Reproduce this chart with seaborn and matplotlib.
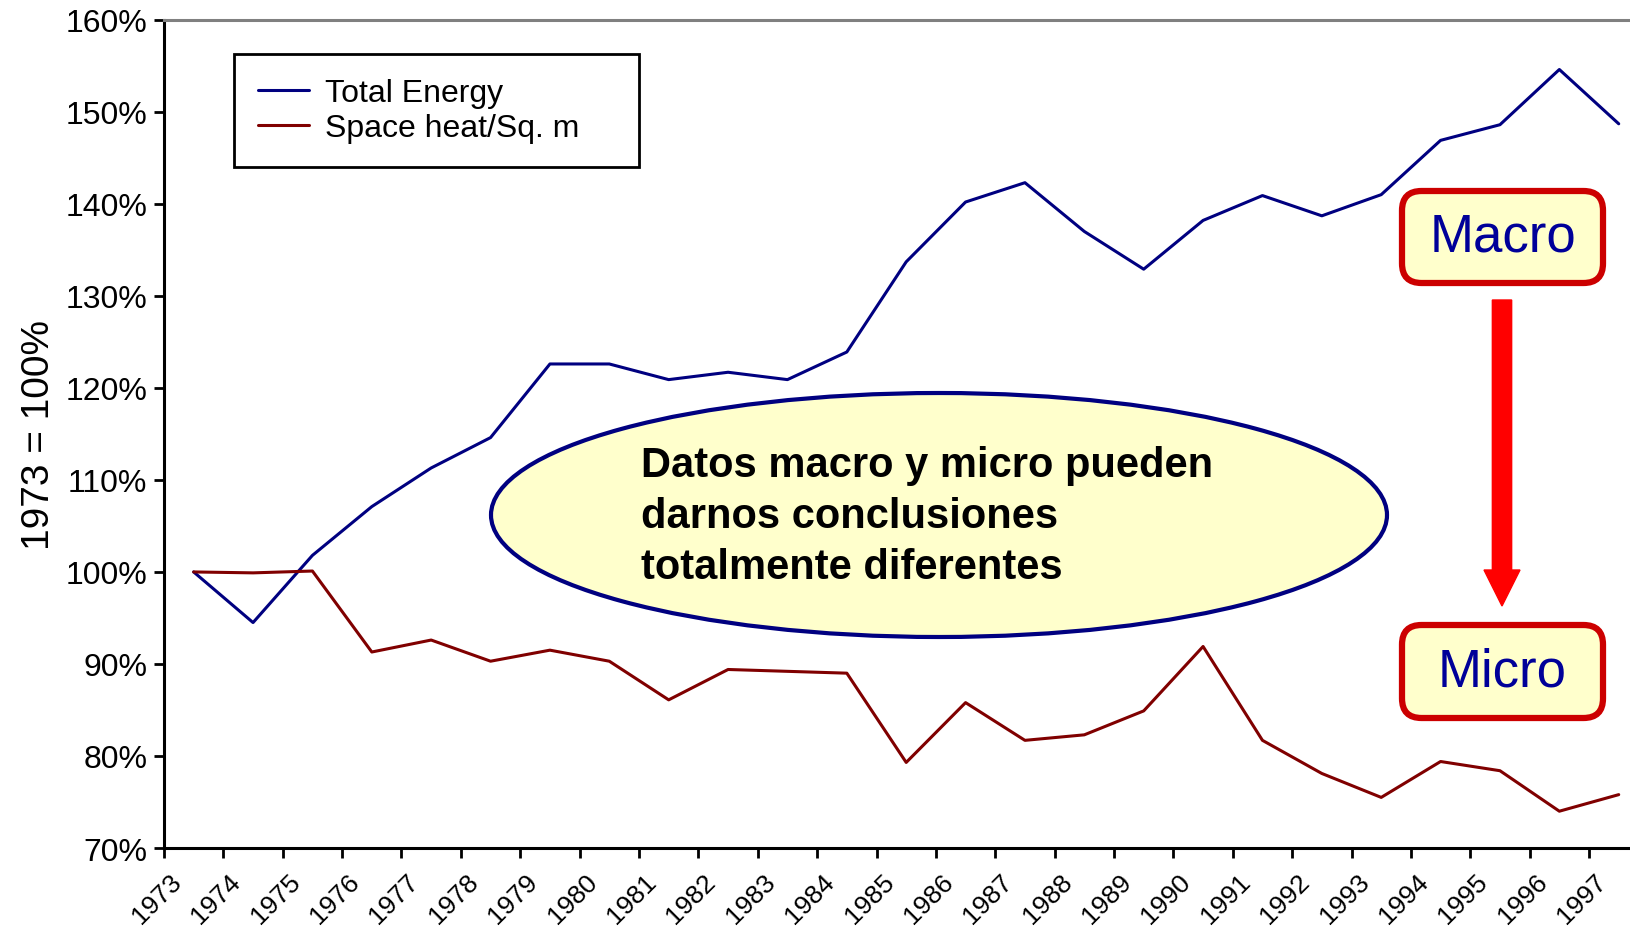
import matplotlib
matplotlib.use("Agg")
import matplotlib.pyplot as plt
import seaborn as sns
import pandas as pd
import numpy as np
from matplotlib.patches import Ellipse, FancyBboxPatch, FancyArrow
from matplotlib import font_manager

years = [str(y) for y in range(1973, 1998)]
total_energy = [100.0, 94.5, 101.8, 107.1, 111.3, 114.6, 122.6, 122.6, 120.9, 121.7,
                120.9, 123.9, 133.7, 140.2, 142.3, 137.0, 132.9, 138.2, 140.9, 138.7,
                141.0, 146.9, 148.6, 154.6, 148.7]
space_heat = [100.0, 99.9, 100.1, 91.3, 92.6, 90.3, 91.5, 90.3, 86.1, 89.4,
              89.2, 89.0, 79.3, 85.8, 81.7, 82.3, 84.9, 91.9, 81.7, 78.1,
              75.5, 79.4, 78.4, 74.0, 75.8]
series_names = ["Total Energy", "Space heat/Sq. m"]
y_ticks = [70, 80, 90, 100, 110, 120, 130, 140, 150, 160]
callout = "Datos macro y micro pueden\ndarnos conclusiones\ntotalmente diferentes"

sns.set_style("white")
plt.rcParams['font.family'] = ['Liberation Sans', 'DejaVu Sans']
plt.rcParams['text.color'] = 'black'
plt.rcParams['axes.labelcolor'] = 'black'
plt.rcParams['xtick.color'] = 'black'
plt.rcParams['ytick.color'] = 'black'

names = {f.name for f in font_manager.fontManager.ttflist}
narrow = 'Liberation Sans Narrow' if 'Liberation Sans Narrow' in names else 'Liberation Sans'

df = pd.DataFrame({
    "idx": list(range(len(years))) * 2,
    "value": total_energy + space_heat,
    "series": [series_names[0]] * len(years) + [series_names[1]] * len(years),
})

fig = plt.figure(figsize=(16.3, 9.29), dpi=100)
ax = fig.add_axes([0.1006, 0.0861, 0.8994, 0.8915])
sns.lineplot(data=df, x="idx", y="value", hue="series",
             palette={series_names[0]: "#000080", series_names[1]: "#800000"},
             linewidth=2.2, ax=ax, legend=True)

ax.set_xlim(-0.5, 24.19)
ax.set_ylim(70, 160)
ax.set_yticks(y_ticks)
ax.set_yticklabels([f"{v}%" for v in y_ticks], fontsize=23, family=narrow)
ax.set_xticks(np.arange(-0.5, 24.5, 1.0))
ax.set_xticklabels([])
for i, yl in enumerate(years):
    ax.text(i - 0.27, -0.036, yl, transform=ax.get_xaxis_transform(),
            rotation=45, ha='right', va='center', rotation_mode='anchor',
            fontsize=19, family=narrow)
ax.tick_params(axis='both', direction='out', length=7, width=2, colors='black',
               bottom=True, left=True)
ax.tick_params(axis='y', pad=5)
ax.set_xlabel("")
ax.set_ylabel("1973 = 100%", fontsize=28, labelpad=6)

for s in ['left', 'bottom']:
    ax.spines[s].set_linewidth(2.2)
    ax.spines[s].set_color('black')
ax.spines['right'].set_visible(False)
ax.spines['top'].set_color('#808080')
ax.spines['top'].set_linewidth(2.2)

leg = ax.legend(loc='upper left', bbox_to_anchor=(0.0477, 0.5, 0.2763, 0.4587),
                mode='expand', fontsize=23, frameon=True, fancybox=False,
                edgecolor='black', framealpha=1, handlelength=1.6,
                handletextpad=0.5, borderpad=0.75, labelspacing=0.15,
                borderaxespad=0)
leg.get_frame().set_linewidth(2)
for t in leg.get_texts():
    t.set_color('black')
for h in leg.get_lines():
    h.set_linewidth(2.2)

W, H = 1630, 929
def fx(px): return px / W
def fy(py): return 1 - py / H

ell = Ellipse((fx(939), fy(516)), 896 / W, 244 / H, transform=fig.transFigure,
              facecolor='#FFFFCC', edgecolor='#000080', linewidth=3, zorder=5)
fig.patches.append(ell)
fig.text(fx(641), fy(517), callout, ha='left', va='center', fontsize=30,
         fontweight='bold', family=narrow, linespacing=1.34, zorder=6)

def box(x0, y0, x1, y1, label):
    p = FancyBboxPatch((fx(x0), fy(y1)), (x1 - x0) / W, (y1 - y0) / H,
                       boxstyle='round,pad=0,rounding_size=0.012',
                       transform=fig.transFigure, facecolor='#FFFFCC',
                       edgecolor='#CC0000', linewidth=4.5, zorder=5,
                       mutation_aspect=W / H)
    fig.patches.append(p)
    fig.text(fx((x0 + x1) / 2), fy((y0 + y1) / 2), label, ha='center', va='center',
             fontsize=38, color='#000099', family=narrow, zorder=6)

box(1402, 192, 1603, 284, "Macro")
box(1402, 626, 1603, 719, "Micro")

fig.patches.append(FancyArrow(
    fx(1502), fy(301), 0, -(607 - 301 - 36) / H, width=11 / H,
    head_width=36 / W, head_length=36 / H, length_includes_head=False,
    transform=fig.transFigure, color='#FF0000', zorder=5))

fig.savefig("out.png", dpi=100)
